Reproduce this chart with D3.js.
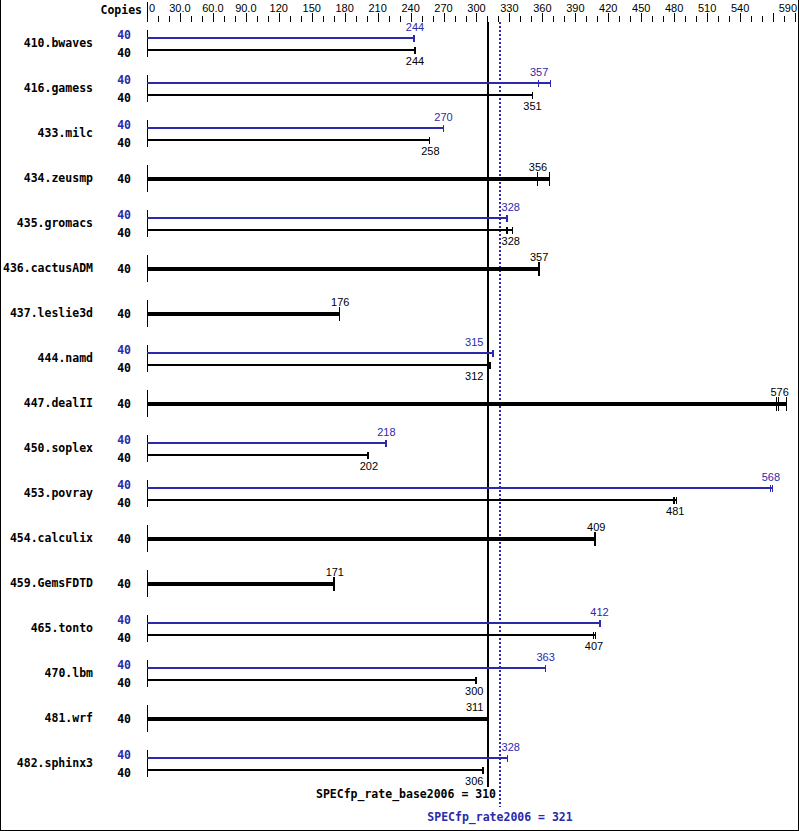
<!DOCTYPE html>
<html>
<head>
<meta charset="utf-8">
<script src="https://cdn.jsdelivr.net/npm/d3@7"></script>
<style>
  html, body { margin: 0; padding: 0; background: #fff; }
  svg { display: block; }
  line, path { shape-rendering: crispEdges; }
</style>
</head>
<body>
<svg id="chart" width="799" height="831"></svg>
<script>
// ---------------- data ----------------
const benchmarks = ["410.bwaves","416.gamess","433.milc","434.zeusmp","435.gromacs","436.cactusADM",
  "437.leslie3d","444.namd","447.dealII","450.soplex","453.povray","454.calculix","459.GemsFDTD",
  "465.tonto","470.lbm","481.wrf","482.sphinx3"];
const baseCopies = [40,40,40,40,40,40,40,40,40,40,40,40,40,40,40,40,40];
const peakCopies = [40,40,40,null,40,null,null,40,null,40,40,null,null,40,40,null,40];
const baseScore = [244,351,258,356,328,357,176,312,576,202,481,409,171,407,300,311,306];
const peakScore = [244,357,270,null,328,null,null,315,null,218,568,null,null,412,363,null,328];
const baseRuns = [
  [243.6,244,244.6],[351,351.3,351.8],[257.7,257.8,258],[355.6,356,367],[328,328.3,333.6],
  [356.6,356.9,358.2],[175.6,175.8,176],[312,312.4,312.8],[573.9,575.7,583],[201.5,201.7,202],
  [479.4,480.9,482.4],[407.8,409,409.2],[170.5,170.7,170.9],[406.9,407.2,409.2],[300,300.2,300.4],
  [311,311.2,311.4],[306,306.3,306.5]];
const peakRuns = [
  [243.5,243.6,243.8],[357,357.2,368],[270.3,270.4,270.8],null,[327.7,328,328.3],null,null,
  [315,315.3,315.9],null,[217.8,218,218.2],[567.7,568.2,569.6],null,null,[412.2,412.4,413.3],
  [363,363.1,363.2],null,[328.3,328.4,328.6]];
const tickValues = d3.range(10, 591, 10);
const majorTicks = [30,60,90,120,150,180,210,240,270,300,330,360,390,420,450,480,510,540,570,590];
const tickLabels = [[0,"0"],[30,"30.0"],[60,"60.0"],[90,"90.0"],[120,"120"],[150,"150"],[180,"180"],
  [210,"210"],[240,"240"],[270,"270"],[300,"300"],[330,"330"],[360,"360"],[390,"390"],[420,"420"],
  [450,"450"],[480,"480"],[510,"510"],[540,"540"],[590,"590"]];
const baseOverall = 310, peakOverall = 321;
const baseTitle = "SPECfp_rate_base2006 = " + baseOverall;
const peakTitle = "SPECfp_rate2006 = " + peakOverall;

// ---------------- drawing ----------------
const BLUE = "#2a2aaa";
const MONO = "'DejaVu Sans Mono', monospace";
const SANS = "'Liberation Sans', Arial, sans-serif";
const svg = d3.select("#chart");
const x = d3.scaleLinear().domain([0, 590]).range([147, 795]);
const rowTop = d3.scaleLinear().domain([0, 1]).range([30, 75]); // row i top

// border
svg.append("path").attr("d", "M0.5,0 V830.5 H798.5 V0").attr("fill","none").attr("stroke","#000").attr("stroke-width",1);

// header
svg.append("text").attr("x", 142).attr("y", 13.5).attr("text-anchor","end")
  .attr("font-family", MONO).attr("font-weight","bold").attr("font-size","11.5px").text("Copies");

// axis ticks
svg.append("line").attr("x1", x(0)+0.5).attr("x2", x(0)+0.5).attr("y1", 2).attr("y2", 22).attr("stroke","#000");
svg.selectAll("line.tk").data(tickValues).enter().append("line")
  .attr("class","tk")
  .attr("x1", d => Math.round(x(d))+0.5).attr("x2", d => Math.round(x(d))+0.5)
  .attr("y1", d => majorTicks.includes(d) ? 13 : 16).attr("y2", 22)
  .attr("stroke","#000").attr("stroke-width",1);
svg.selectAll("text.tl").data(tickLabels).enter().append("text")
  .attr("class","tl")
  .attr("x", d => d[0] === 0 ? x(0)+2 : (d[0] === 590 ? 797 : x(d[0])))
  .attr("y", 11.5)
  .attr("text-anchor", d => d[0] === 0 ? "start" : (d[0] === 590 ? "end" : "middle"))
  .attr("font-family", SANS).attr("font-size","11px").text(d => d[1]);

// reference lines
const xb = Math.round(x(baseOverall)) + 0.5, xp = Math.round(x(peakOverall));
svg.append("line").attr("x1", xb).attr("x2", xb).attr("y1", 22).attr("y2", 787)
  .attr("stroke","#000").attr("stroke-width",2);
svg.append("line").attr("x1", xp).attr("x2", xp).attr("y1", 22).attr("y2", 807)
  .attr("stroke",BLUE).attr("stroke-width",2).attr("stroke-dasharray","2,2");

const zoneL = x(baseOverall) - 4, zoneR = x(peakOverall) + 2, zoneMid = x(peakOverall) - 4;
function placeLabel(sel, cx) {
  const w = sel.node().getComputedTextLength();
  let a = cx - w/2, b = cx + w/2;
  if (b > zoneL && a < zoneR) {
    if (cx < zoneMid) { sel.attr("x", zoneL - w); } else { sel.attr("x", zoneR); }
  } else sel.attr("x", a);
}

function drawBar(g, runs, y, thick, color) {
  const mx = d3.max(runs);
  g.append("line").attr("x1", x(0)).attr("x2", Math.round(x(mx))).attr("y1", y).attr("y2", y)
    .attr("stroke", color).attr("stroke-width", thick);
  const h = thick > 3 ? 7 : 3.5;
  runs.forEach(r => {
    const xx = Math.round(x(r)) - 0.5;
    g.append("line").attr("x1", xx).attr("x2", xx).attr("y1", y - h).attr("y2", y + h)
      .attr("stroke", color).attr("stroke-width", 1);
  });
}

benchmarks.forEach((name, i) => {
  const t = rowTop(i);
  const g = svg.append("g");
  const hasPeak = peakRuns[i] !== null;
  // row axis segment
  g.append("line").attr("x1", x(0)+0.5).attr("x2", x(0)+0.5).attr("y1", t).attr("y2", t + 27)
    .attr("stroke","#000").attr("stroke-width",1);
  g.append("text").attr("x", 93).attr("y", t + 17).attr("text-anchor","end")
    .attr("font-family", MONO).attr("font-weight","bold").attr("font-size","11.5px").text(name);
  if (hasPeak) {
    const yp = t + 8, yb = t + 20;
    g.append("text").attr("x", 131).attr("y", t + 9).attr("text-anchor","end").attr("fill", BLUE)
      .attr("font-family", MONO).attr("font-weight","bold").attr("font-size","11.5px").text(peakCopies[i]);
    g.append("text").attr("x", 131).attr("y", t + 26.5).attr("text-anchor","end")
      .attr("font-family", MONO).attr("font-weight","bold").attr("font-size","11.5px").text(baseCopies[i]);
    drawBar(g, peakRuns[i], yp, 2, BLUE);
    drawBar(g, baseRuns[i], yb, 2, "#000");
    const lp = g.append("text").attr("y", yp - 7).attr("fill", BLUE)
      .attr("font-family", SANS).attr("font-size","11px").text(peakScore[i]);
    placeLabel(lp, x(peakScore[i]));
    const lb = g.append("text").attr("y", yb + 14.5).attr("fill", "#000")
      .attr("font-family", SANS).attr("font-size","11px").text(baseScore[i]);
    placeLabel(lb, x(baseScore[i]));
  } else {
    const yb = t + 14;
    g.append("text").attr("x", 131).attr("y", t + 17.5).attr("text-anchor","end")
      .attr("font-family", MONO).attr("font-weight","bold").attr("font-size","11.5px").text(baseCopies[i]);
    drawBar(g, baseRuns[i], yb, 4, "#000");
    const lb = g.append("text").attr("y", yb - 8).attr("fill", "#000")
      .attr("font-family", SANS).attr("font-size","11px").text(baseScore[i]);
    placeLabel(lb, x(baseScore[i]));
  }
});

// overall titles
svg.append("text").attr("x", 496).attr("y", 798).attr("text-anchor","end")
  .attr("font-family", MONO).attr("font-weight","bold").attr("font-size","11.5px").text(baseTitle);
svg.append("text").attr("x", xp).attr("y", 821).attr("text-anchor","middle").attr("fill", BLUE)
  .attr("font-family", MONO).attr("font-weight","bold").attr("font-size","11.5px").text(peakTitle);
</script>
</body>
</html>
